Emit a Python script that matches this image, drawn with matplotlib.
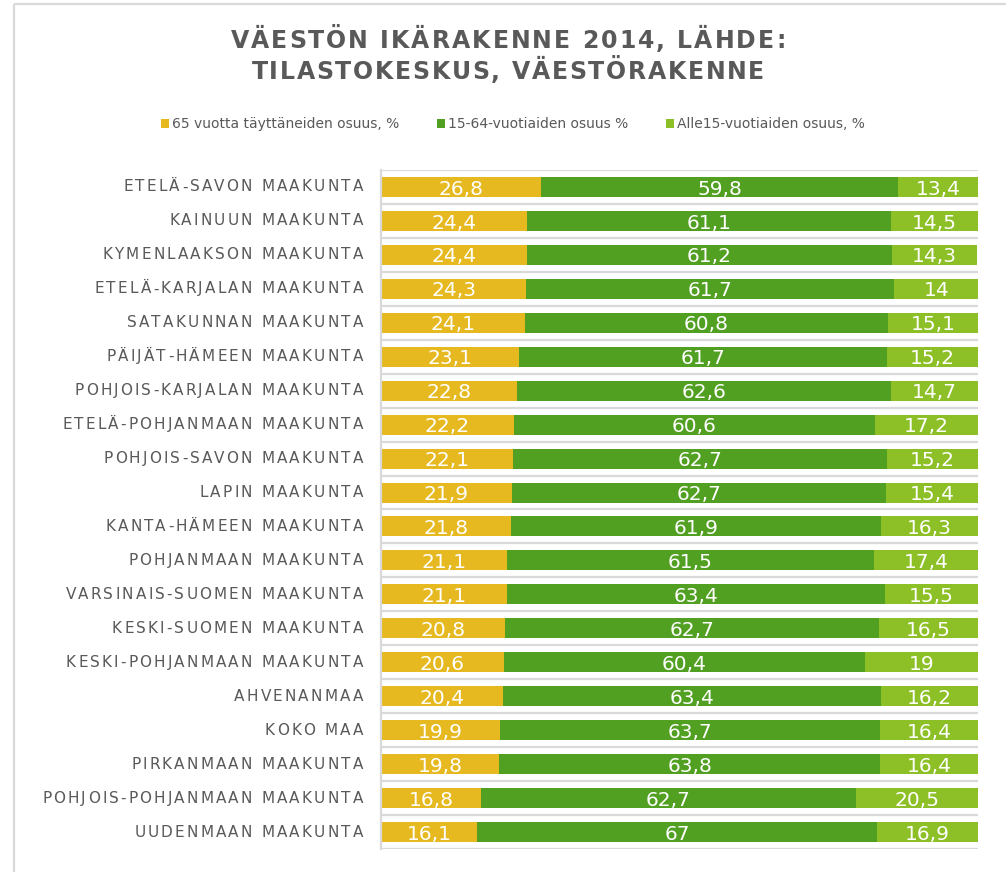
import matplotlib
matplotlib.use("Agg")
import matplotlib.pyplot as plt
from matplotlib.font_manager import FontProperties
from matplotlib.lines import Line2D
from matplotlib.textpath import TextToPath

categories = [
    "ETELÄ-SAVON MAAKUNTA", "KAINUUN MAAKUNTA", "KYMENLAAKSON MAAKUNTA",
    "ETELÄ-KARJALAN MAAKUNTA", "SATAKUNNAN MAAKUNTA", "PÄIJÄT-HÄMEEN MAAKUNTA",
    "POHJOIS-KARJALAN MAAKUNTA", "ETELÄ-POHJANMAAN MAAKUNTA", "POHJOIS-SAVON MAAKUNTA",
    "LAPIN MAAKUNTA", "KANTA-HÄMEEN MAAKUNTA", "POHJANMAAN MAAKUNTA",
    "VARSINAIS-SUOMEN MAAKUNTA", "KESKI-SUOMEN MAAKUNTA", "KESKI-POHJANMAAN MAAKUNTA",
    "AHVENANMAA", "KOKO MAA", "PIRKANMAAN MAAKUNTA",
    "POHJOIS-POHJANMAAN MAAKUNTA", "UUDENMAAN MAAKUNTA",
]
over65 = [26.8, 24.4, 24.4, 24.3, 24.1, 23.1, 22.8, 22.2, 22.1, 21.9,
          21.8, 21.1, 21.1, 20.8, 20.6, 20.4, 19.9, 19.8, 16.8, 16.1]
age15_64 = [59.8, 61.1, 61.2, 61.7, 60.8, 61.7, 62.6, 60.6, 62.7, 62.7,
            61.9, 61.5, 63.4, 62.7, 60.4, 63.4, 63.7, 63.8, 62.7, 67]
under15 = [13.4, 14.5, 14.3, 14, 15.1, 15.2, 14.7, 17.2, 15.2, 15.4,
           16.3, 17.4, 15.5, 16.5, 19, 16.2, 16.4, 16.4, 20.5, 16.9]
series_names = ["65 vuotta täyttäneiden osuus, %", "15-64-vuotiaiden osuus %",
                "Alle15-vuotiaiden osuus, %"]
title_lines = ["VÄESTÖN IKÄRAKENNE 2014, LÄHDE:", "TILASTOKESKUS, VÄESTÖRAKENNE"]

colors = ["#E6B920", "#52A022", "#8DC026"]
grey_text = "#595959"
grid_grey = "#D9D9D9"

W, H = 1006, 872
_t2p = TextToPath()


def advance(ch, fp):
    # glyph advance in points (H...H trick so spaces get a width)
    w2 = _t2p.get_text_width_height_descent("H" + ch + "H", fp, ismath=False)[0]
    w1 = _t2p.get_text_width_height_descent("HH", fp, ismath=False)[0]
    return w2 - w1


def tracked_text(ax, s, xy, xycoords, fp, ha="left", track=0.0, width_px=None,
                 dx=0.0, **kw):
    """Draw letter-spaced text char by char; track in points."""
    adv = [advance(c, fp) for c in s]
    if width_px is not None:
        track = (width_px * 72 / 100 - sum(adv)) / (len(s) - 1)
    total = sum(adv) + track * (len(s) - 1)
    off = {"left": 0.0, "center": -total / 2, "right": -total}[ha] + dx
    for c, a in zip(s, adv):
        ax.annotate(c, xy=xy, xycoords=xycoords, xytext=(off, 0),
                    textcoords="offset points", ha="left", va="center",
                    fontproperties=fp, annotation_clip=False, **kw)
        off += a + track


fig = plt.figure(figsize=(W / 100, H / 100), dpi=100)
ax = fig.add_axes([381 / W, 1 - 849 / H, (978 - 381) / W, (849 - 170) / H])

y = list(range(len(categories)))
left = [0.0] * len(categories)
containers = []
for vals, col, name in zip([over65, age15_64, under15], colors, series_names):
    bc = ax.barh(y, vals, left=left, height=0.59, color=col, label=name,
                 edgecolor="none")
    containers.append(bc)
    labels = [f"{v:g}".replace(".", ",") for v in vals]
    texts = ax.bar_label(bc, labels=labels, label_type="center", color="white",
                         fontsize=14.5)
    for t in texts:
        t.xyann = (0, -1.5)
    left = [l + v for l, v in zip(left, vals)]

ax.set_xlim(0, 100)
ax.set_ylim(len(categories) - 0.5, -0.5)
ax.set_xticks([])
ax.set_yticks([])
ax.set_yticks([i + 0.5 for i in range(-1, len(categories))], minor=True)
ax.tick_params(which="both", length=0)
ax.grid(which="minor", axis="y", color=grid_grey, lw=1.6)
ax.set_axisbelow(True)
for side in ["top", "right", "bottom"]:
    ax.spines[side].set_visible(False)
ax.spines["left"].set_color(grid_grey)
ax.spines["left"].set_linewidth(1.6)

# category labels, letter-spaced
cat_fp = FontProperties(family="DejaVu Sans", size=11)
for i, name in enumerate(categories):
    tracked_text(ax, name, (0, i), ax.get_yaxis_transform(), cat_fp, ha="right",
                 track=1.55, dx=-13, color=grey_text)

# title, letter-spaced bold
title_fp = FontProperties(family="DejaVu Sans", weight="bold", size=17)
for line, ypix, wpx in zip(title_lines, [41, 72], [555, 513]):
    tracked_text(ax, line, (508, H - ypix), "figure pixels", title_fp,
                 ha="center", width_px=wpx, color=grey_text)

fig.legend(handles=containers, labels=series_names, loc="center",
           bbox_to_anchor=(513 / W, 1 - 124 / H), ncol=3, frameon=False,
           fontsize=10, handlelength=0.6, handleheight=0.6,
           handletextpad=0.2, columnspacing=2.7, labelcolor=grey_text)

# outer chart border (top and left edges visible in the crop)
fig.add_artist(Line2D([14 / W, 14 / W], [0, 1 - 4 / H], color=grid_grey, lw=1.6,
                      solid_capstyle="butt"))
fig.add_artist(Line2D([14 / W, 1], [1 - 4 / H, 1 - 4 / H], color=grid_grey, lw=1.6,
                      solid_capstyle="butt"))

fig.savefig("out.png", dpi=100)
plt.close(fig)
